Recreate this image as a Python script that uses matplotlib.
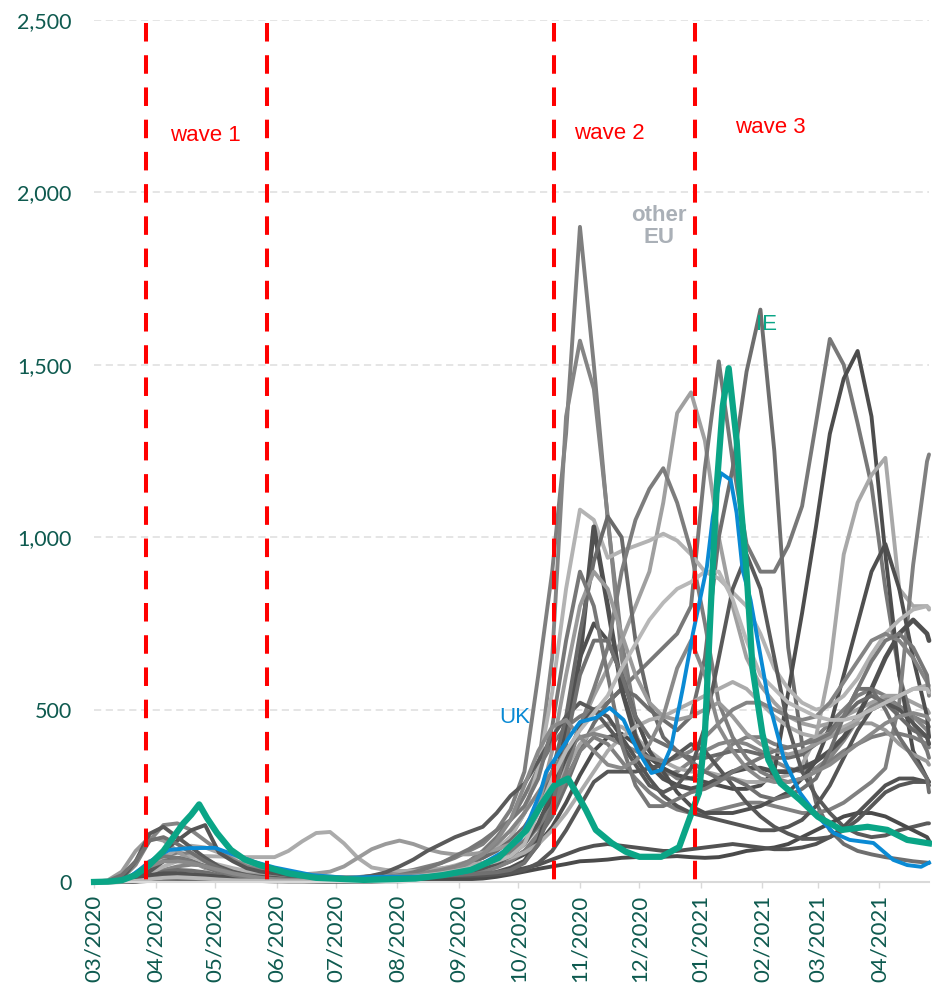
import numpy as np
import pandas as pd
import matplotlib
matplotlib.use('Agg')
import matplotlib.pyplot as plt
import matplotlib.dates as mdates


# ─── Data: 14-day case rate per 100k, weekly samples ──────────────────────────

WEEKS = list(pd.date_range('2020-03-01', '2021-04-25', freq='7D')) + [pd.Timestamp('2021-04-26')]

EU_A = [0, 1, 5, 20, 50, 75, 85, 80, 65, 45, 30, 20, 14, 10,
        8, 7, 7, 8, 10, 14, 18, 22, 28, 35, 45, 55, 70,
        90, 110, 150, 210, 320, 600, 900, 1300, 1900, 1500, 1050, 700, 480, 380, 330, 300, 300,
        320, 360, 400, 420, 420, 400, 390, 400, 420, 460, 500, 540, 560, 540, 510, 480, 460, 450]
EU_B = [0, 0, 2, 8, 20, 35, 45, 50, 48, 40, 30, 22, 16, 12,
        10, 8, 7, 7, 8, 9, 11, 14, 18, 22, 28, 35, 45,
        55, 70, 95, 130, 200, 330, 650, 1350, 1570, 1430, 1060, 650, 430, 340, 310, 320, 350,
        380, 400, 410, 400, 380, 350, 330, 320, 330, 360, 410, 470, 510, 530, 510, 480, 440, 420]
EU_C = [0, 0, 1, 4, 10, 16, 20, 20, 18, 15, 12, 9, 7, 6,
        5, 5, 5, 5, 6, 7, 8, 9, 11, 13, 16, 20, 26,
        34, 45, 60, 80, 110, 160, 230, 330, 450, 540, 620, 700, 800, 900, 1100, 1360, 1420,
        1280, 1000, 800, 650, 570, 520, 480, 460, 450, 460, 480, 500, 520, 540, 540, 520, 500, 490]
EU_D = [0, 0, 1, 4, 10, 18, 22, 22, 18, 14, 10, 7, 5, 4,
        3, 3, 3, 4, 5, 6, 8, 10, 12, 15, 20, 28, 40,
        60, 90, 130, 180, 250, 330, 400, 450, 480, 500, 520, 560, 600, 640, 680, 720, 800,
        1200, 1510, 1220, 980, 900, 900, 975, 1090, 1330, 1575, 1500, 1330, 1150, 850, 600, 460, 380, 360]
EU_E = [0, 0, 2, 8, 20, 30, 35, 33, 28, 22, 17, 14, 12, 12,
        13, 14, 15, 15, 14, 12, 10, 9, 9, 10, 12, 15, 20,
        28, 38, 50, 65, 90, 130, 190, 280, 380, 460, 520, 560, 540, 500, 470, 440, 480,
        650, 1000, 1200, 1480, 1660, 1250, 680, 400, 230, 150, 110, 90, 80, 72, 66, 60, 56, 55]
EU_G = [0, 0, 1, 3, 8, 14, 18, 20, 18, 15, 12, 10, 8, 6,
        5, 5, 5, 6, 6, 7, 8, 9, 10, 12, 15, 18, 22,
        28, 35, 45, 60, 80, 110, 160, 230, 310, 380, 420, 430, 400, 360, 330, 310, 300,
        290, 280, 270, 270, 280, 320, 550, 780, 1030, 1300, 1460, 1540, 1350, 950, 600, 380, 300, 290]
EU_H = [0, 1, 4, 15, 40, 70, 95, 105, 100, 85, 65, 50, 40, 32,
        26, 22, 18, 15, 13, 12, 12, 13, 15, 18, 22, 28, 35,
        45, 55, 70, 90, 120, 170, 250, 330, 400, 440, 460, 450, 420, 380, 350, 330, 320,
        320, 310, 300, 290, 290, 300, 310, 340, 420, 620, 950, 1100, 1180, 1230, 850, 800, 800, 790]
EU_I = [0, 0, 1, 3, 8, 12, 14, 13, 11, 9, 7, 5, 4, 3,
        3, 3, 3, 3, 3, 4, 4, 5, 6, 7, 9, 12, 16,
        22, 30, 42, 60, 90, 140, 210, 300, 380, 420, 400, 350, 300, 260, 230, 210, 200,
        200, 210, 220, 230, 230, 220, 210, 200, 200, 210, 230, 260, 290, 330, 520, 920, 1220, 1240]
EU_K = [0, 0, 0, 1, 3, 5, 6, 6, 6, 6, 5, 5, 5, 4,
        4, 4, 5, 5, 5, 6, 7, 8, 9, 9, 9, 9, 10,
        12, 15, 20, 30, 60, 120, 250, 450, 650, 750, 700, 600, 480, 380, 320, 260, 220,
        200, 200, 200, 210, 220, 240, 260, 300, 350, 450, 600, 750, 900, 980, 850, 650, 480, 420]
EU_L = [0, 1, 3, 10, 25, 45, 60, 65, 60, 50, 40, 32, 26, 22,
        20, 18, 16, 15, 14, 14, 15, 17, 20, 24, 30, 38, 48,
        60, 75, 95, 130, 200, 330, 550, 850, 1080, 1050, 940, 960, 975, 990, 1010, 990, 950,
        900, 880, 840, 800, 720, 620, 560, 520, 500, 510, 540, 590, 660, 720, 760, 790, 800, 795]
EU_M = [0, 0, 1, 3, 6, 10, 12, 12, 10, 8, 6, 5, 4, 3,
        3, 3, 3, 3, 3, 4, 4, 5, 6, 7, 8, 10, 12,
        15, 20, 28, 40, 60, 110, 250, 420, 650, 1030, 800, 560, 420, 340, 300, 280, 270,
        280, 300, 320, 330, 330, 320, 320, 330, 350, 380, 420, 480, 560, 650, 720, 760, 720, 700]
EU_N = [0, 0, 1, 2, 5, 8, 10, 10, 9, 8, 7, 6, 5, 4,
        4, 4, 4, 5, 6, 7, 9, 11, 14, 18, 24, 32, 42,
        55, 70, 90, 120, 160, 220, 320, 480, 720, 930, 1060, 1000, 700, 520, 420, 380, 360,
        360, 370, 380, 380, 370, 360, 360, 370, 400, 440, 480, 520, 540, 520, 480, 440, 420, 400]
EU_O = [0, 0, 1, 3, 6, 9, 10, 10, 9, 8, 7, 6, 5, 5,
        5, 5, 5, 6, 7, 8, 10, 12, 15, 18, 22, 28, 35,
        45, 55, 70, 90, 120, 160, 220, 320, 450, 560, 680, 900, 1050, 1140, 1200, 1100, 960,
        750, 520, 420, 360, 320, 300, 290, 300, 320, 350, 380, 400, 420, 430, 430, 420, 400, 390]
EU_P = [0, 1, 5, 15, 40, 60, 70, 75, 75, 74, 73, 72, 72, 72,
        90, 118, 142, 145, 112, 70, 42, 35, 32, 32, 35, 40, 45,
        50, 55, 60, 70, 85, 110, 150, 200, 260, 320, 380, 420, 450, 470, 480, 500, 520,
        540, 560, 580, 560, 520, 480, 450, 430, 420, 430, 450, 470, 500, 520, 540, 560, 570, 570]
EU_Q = [0, 5, 30, 90, 130, 120, 90, 60, 40, 30, 25, 22, 20, 20,
        20, 22, 25, 30, 45, 70, 95, 110, 120, 110, 95, 85, 80,
        80, 85, 95, 110, 150, 220, 380, 600, 800, 900, 850, 720, 600, 520, 480, 470, 480,
        500, 520, 480, 430, 400, 380, 370, 380, 400, 420, 440, 460, 460, 440, 400, 370, 350, 340]
EU_R = [0, 2, 10, 50, 120, 165, 170, 150, 120, 90, 65, 45, 35, 28,
        22, 18, 15, 14, 13, 13, 14, 16, 18, 22, 28, 35, 45,
        60, 80, 110, 150, 200, 260, 320, 380, 420, 430, 420, 400, 380, 360, 350, 360, 380,
        420, 460, 500, 520, 520, 500, 480, 470, 480, 520, 580, 640, 700, 720, 700, 650, 580, 540]
EU_T = [0, 0, 2, 10, 40, 90, 120, 150, 165, 85, 60, 40, 30, 25,
        20, 15, 12, 10, 9, 9, 9, 10, 12, 14, 17, 20, 25,
        30, 40, 55, 75, 110, 170, 260, 360, 450, 500, 480, 420, 360, 300, 250, 220, 200,
        190, 180, 170, 160, 150, 150, 160, 180, 220, 280, 360, 440, 500, 520, 500, 460, 420, 400]
EU_U = [0, 1, 10, 60, 140, 160, 130, 100, 70, 45, 30, 20, 15, 12,
        8, 6, 5, 6, 8, 12, 18, 28, 45, 65, 90, 110, 130,
        145, 160, 200, 250, 285, 350, 420, 480, 520, 500, 450, 400, 340, 280, 260, 280, 330,
        450, 650, 850, 950, 850, 650, 450, 320, 250, 200, 160, 140, 130, 135, 150, 160, 170, 170]
EU_V = [0, 0, 1, 4, 8, 12, 14, 14, 12, 10, 8, 6, 4, 3,
        2, 2, 1, 1, 1, 1, 1, 2, 2, 3, 4, 5, 6,
        8, 10, 15, 22, 30, 38, 45, 52, 60, 62, 65, 70, 72, 72, 73, 75, 72,
        70, 72, 80, 90, 95, 100, 110, 130, 150, 170, 190, 200, 200, 190, 170, 150, 130, 120]
EU_W = [0, 1, 3, 10, 20, 25, 25, 22, 18, 14, 10, 8, 6, 5,
        4, 4, 4, 4, 4, 5, 6, 8, 10, 12, 14, 16, 18,
        20, 22, 26, 32, 40, 50, 65, 80, 95, 105, 110, 105, 100, 95, 90, 90, 95,
        100, 105, 110, 105, 100, 95, 95, 100, 110, 130, 160, 200, 240, 280, 300, 300, 290, 280]
EU_X = [0, 0, 2, 10, 30, 60, 70, 60, 45, 30, 20, 14, 10, 8,
        6, 5, 5, 5, 6, 7, 9, 11, 13, 15, 17, 18, 18,
        18, 19, 22, 26, 35, 55, 90, 150, 220, 290, 320, 320, 320, 330, 340, 370, 400,
        380, 330, 280, 230, 190, 160, 140, 125, 125, 130, 150, 180, 220, 260, 280, 290, 290, 290]
EU_Z = [0, 3, 20, 60, 120, 130, 110, 85, 60, 40, 25, 15, 10, 7,
        5, 4, 3, 3, 3, 3, 4, 5, 7, 10, 15, 18, 20,
        22, 25, 28, 35, 55, 110, 220, 400, 600, 700, 700, 600, 480, 420, 400, 380, 350,
        320, 300, 300, 280, 250, 240, 250, 270, 300, 380, 480, 560, 560, 500, 420, 360, 300, 260]
EU_AA = [0, 1, 5, 25, 60, 75, 70, 60, 45, 30, 20, 14, 10, 8,
         6, 5, 5, 5, 6, 8, 10, 14, 20, 28, 40, 55, 75,
         95, 120, 150, 180, 220, 300, 450, 700, 900, 800, 600, 400, 280, 220, 220, 240, 260,
         270, 290, 320, 340, 360, 380, 390, 400, 410, 430, 480, 560, 640, 700, 720, 680, 600, 550]
EU_AB = [0, 1, 5, 20, 45, 60, 60, 55, 45, 35, 25, 18, 12, 8,
         6, 5, 4, 4, 5, 7, 10, 15, 18, 20, 22, 25, 35,
         55, 80, 120, 180, 280, 380, 450, 470, 420, 380, 340, 330, 350, 400, 480, 620, 700,
         600, 450, 380, 330, 300, 290, 290, 300, 320, 340, 370, 400, 430, 460, 480, 490, 480, 470]
EU_AD = [0, 0, 1, 3, 8, 12, 14, 12, 10, 7, 5, 4, 3, 2,
         2, 2, 2, 3, 4, 6, 8, 10, 12, 15, 20, 25, 32,
         40, 50, 60, 75, 110, 200, 300, 380, 440, 490, 540, 620, 690, 760, 810, 850, 870,
         900, 900, 820, 700, 600, 560, 520, 500, 480, 470, 470, 480, 500, 520, 540, 560, 560, 550]

OTHER_EU = [EU_A, EU_B, EU_C, EU_D, EU_E, EU_G, EU_H, EU_I, EU_K, EU_L, EU_M, EU_N,
            EU_O, EU_P, EU_Q, EU_R, EU_T, EU_U, EU_V, EU_W, EU_X, EU_Z, EU_AA, EU_AB, EU_AD]

IE_DATES = ['2020-03-01', '2020-03-08', '2020-03-15', '2020-03-22', '2020-03-29', '2020-04-05',
            '2020-04-09', '2020-04-15', '2020-04-19', '2020-04-23', '2020-04-27', '2020-05-02',
            '2020-05-09', '2020-05-16', '2020-05-24', '2020-06-07', '2020-06-21', '2020-07-15',
            '2020-08-10', '2020-08-24', '2020-09-07', '2020-09-21', '2020-10-05', '2020-10-12',
            '2020-10-19', '2020-10-26', '2020-11-01', '2020-11-04', '2020-11-09', '2020-11-17',
            '2020-11-24', '2020-12-01', '2020-12-12', '2020-12-21', '2020-12-26', '2020-12-31',
            '2021-01-03', '2021-01-06', '2021-01-09', '2021-01-12', '2021-01-15', '2021-01-19',
            '2021-01-21', '2021-01-24', '2021-01-27', '2021-02-01', '2021-02-04', '2021-02-10',
            '2021-02-20', '2021-03-01', '2021-03-13', '2021-03-26', '2021-04-05', '2021-04-15',
            '2021-04-26']
IE_RATE = [0, 1, 5, 20, 50, 90,
           122, 170, 195, 225, 185, 142,
           93, 65, 48, 25, 12, 6,
           10, 20, 35, 70, 150, 220,
           280, 300, 240, 209, 151, 113,
           88, 73, 73, 101, 180, 258,
           430, 800, 1150, 1380, 1490, 1280,
           1100, 900, 620, 430, 354, 287,
           238, 189, 151, 160, 151, 122,
           112]

UK_DATES = ['2020-03-01', '2020-03-12', '2020-03-19', '2020-03-26', '2020-04-02', '2020-04-08',
            '2020-04-18', '2020-05-01', '2020-05-11', '2020-05-21', '2020-05-31', '2020-06-19',
            '2020-07-06', '2020-07-23', '2020-08-09', '2020-08-26', '2020-09-05', '2020-09-11',
            '2020-09-15', '2020-09-25', '2020-10-02', '2020-10-07', '2020-10-12', '2020-10-15',
            '2020-10-18', '2020-10-28', '2020-11-01', '2020-11-09', '2020-11-16', '2020-11-23',
            '2020-11-30', '2020-12-07', '2020-12-12', '2020-12-17', '2020-12-23', '2020-12-28',
            '2021-01-04', '2021-01-07', '2021-01-11', '2021-01-16', '2021-01-19', '2021-01-22',
            '2021-01-26', '2021-02-04', '2021-02-12', '2021-02-20', '2021-03-01', '2021-03-09',
            '2021-03-17', '2021-03-29', '2021-04-08', '2021-04-15', '2021-04-22', '2021-04-26']
UK_RATE = [0, 3, 15, 44, 75, 93,
           98, 99, 78, 58, 42, 20,
           12, 15, 15, 20, 30, 44,
           60, 93, 125, 189, 260, 320,
           345, 432, 464, 476, 505, 470,
           383, 316, 325, 392, 566, 722,
           914, 1059, 1186, 1166, 1070, 905,
           818, 528, 354, 258, 189, 142,
           122, 113, 64, 49, 44, 56]

WAVE_STARTS = ['2020-03-27', '2020-05-27', '2020-10-19', '2020-12-29']
Y_TICKS = [0, 500, 1000, 1500, 2000, 2500]
MONTH_TICKS = pd.date_range('2020-03-01', '2021-04-01', freq='MS')


# ─── Style ────────────────────────────────────────────────────────────────────

GREYS = ['#7f7f7f', '#858585', '#a0a0a0', '#787878', '#6e6e6e', '#4d4d4d', '#a8a8a8',
         '#808080', '#4f4f4f', '#b3b3b3', '#505050', '#6a6a6a', '#7d7d7d', '#ababab',
         '#9a9a9a', '#848484', '#555555', '#5a5a5a', '#4a4a4a', '#525252', '#575757',
         '#707070', '#777777', '#8a8a8a', '#b8b8b8']

CFG = {
    'figsize':    (9.32, 9.85),
    'dpi':        100,
    'axes_rect':  [0.1009, 0.1046, 0.8959, 0.8751],
    'xlim':       ('2020-03-01', '2021-04-26'),
    'tick_color': '#0e5a4f',
    'ie_color':   '#0aa586',
    'uk_color':   '#0a8ad4',
    'eu_label':   '#aab0b7',
    'wave_color': '#ff0000',
    'grid_color': '#e3e3e3',
    'axis_color': '#d9d9d9',
}

plt.rcParams['font.family'] = ['Lato', 'DejaVu Sans']


def main():
    fig = plt.figure(figsize=CFG['figsize'], dpi=CFG['dpi'])
    ax = fig.add_axes(CFG['axes_rect'])

    weeks = pd.to_datetime(WEEKS)
    for values, color in zip(OTHER_EU, GREYS):
        lw = 3.4 if color == '#505050' else 2.8
        ax.plot(weeks, values, color=color, lw=lw, solid_joinstyle='round',
                solid_capstyle='round', clip_on=False, zorder=2)

    ax.plot(pd.to_datetime(UK_DATES), UK_RATE, color=CFG['uk_color'], lw=2.8,
            solid_joinstyle='round', clip_on=False, zorder=3)
    ax.plot(pd.to_datetime(IE_DATES), IE_RATE, color=CFG['ie_color'], lw=4.5,
            solid_joinstyle='round', clip_on=False, zorder=4)

    # wave boundaries
    for d in pd.to_datetime(WAVE_STARTS):
        ax.plot([d, d], [2490, 0], color=CFG['wave_color'], lw=2.9,
                dashes=(4.6, 3.4), clip_on=False, zorder=5)

    label_font = dict(family=['Liberation Sans', 'DejaVu Sans'], fontsize=16)
    for text, day, y in [('wave 1', '2020-04-26', 2166),
                         ('wave 2', '2020-11-16', 2172),
                         ('wave 3', '2021-02-05', 2187)]:
        ax.text(pd.Timestamp(day), y, text, color=CFG['wave_color'],
                ha='center', va='center', **label_font)

    ax.text(pd.Timestamp('2020-12-11'), 1900, 'other\nEU', color=CFG['eu_label'],
            ha='center', va='center', fontweight='bold', linespacing=1.05,
            zorder=6, **label_font)
    ax.text(pd.Timestamp('2020-09-29'), 476, 'UK', color=CFG['uk_color'],
            ha='center', va='center', zorder=6, **label_font)
    ax.text(pd.Timestamp('2021-02-03'), 1618, 'IE', color=CFG['ie_color'],
            ha='center', va='center', zorder=6, **label_font)

    # axes
    ax.set_xlim(pd.Timestamp(CFG['xlim'][0]), pd.Timestamp(CFG['xlim'][1]))
    ax.set_ylim(0, 2500)
    ax.set_yticks(Y_TICKS)
    ax.yaxis.set_major_formatter(plt.FuncFormatter(lambda v, _: f'{int(v):,}'))
    ax.set_xticks(MONTH_TICKS)
    ax.xaxis.set_major_formatter(mdates.DateFormatter('%m/%Y'))
    for lab in ax.get_xticklabels():
        lab.set_rotation(90)

    ax.tick_params(axis='y', length=0, pad=16, labelsize=15.5, labelcolor=CFG['tick_color'])
    ax.tick_params(axis='x', length=4, width=1, color=CFG['axis_color'], pad=5,
                   labelsize=16, labelcolor=CFG['tick_color'])

    ax.yaxis.grid(True, color=CFG['grid_color'], linestyle=(0, (4, 2.5)), linewidth=1.3)
    ax.set_axisbelow(True)
    for side in ('top', 'right', 'left'):
        ax.spines[side].set_visible(False)
    ax.spines['bottom'].set_color(CFG['axis_color'])
    ax.spines['bottom'].set_linewidth(1.5)

    fig.savefig('out.png', dpi=CFG['dpi'])


if __name__ == '__main__':
    main()
